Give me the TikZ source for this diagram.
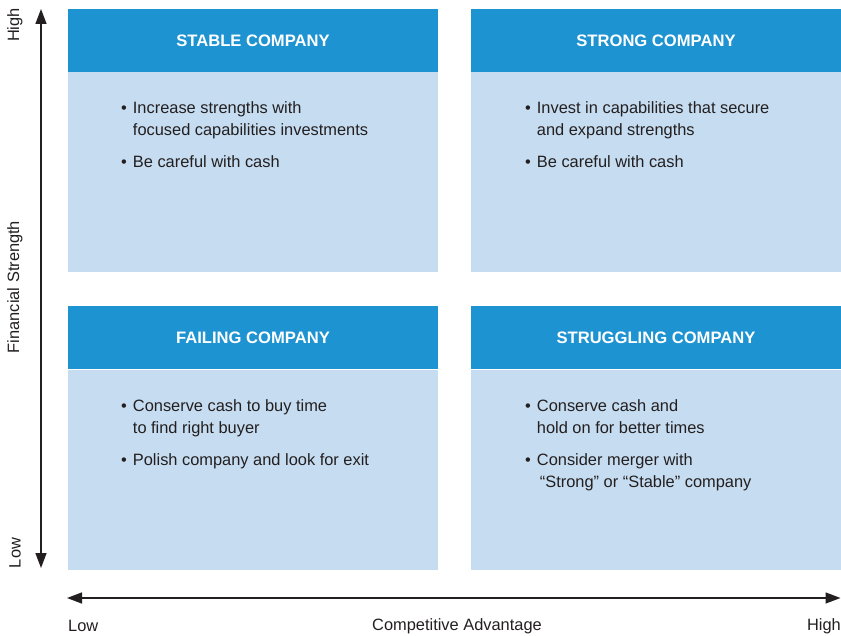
\documentclass[tikz,border=0pt]{standalone}
\usepackage{fontspec}
\setmainfont{Liberation Sans}
\usetikzlibrary{arrows.meta}
\definecolor{headblue}{HTML}{1E93D2}
\definecolor{bodyblue}{HTML}{C6DCF0}
\definecolor{ink}{HTML}{231F20}
\tikzset{
  headbox/.style={fill=headblue, draw=none, minimum width=370pt, minimum height=63pt,
    inner sep=0pt, text=white, font=\fontsize{16.6}{19}\selectfont\bfseries},
  bodybox/.style={fill=bodyblue, draw=none, minimum width=370pt, minimum height=200pt,
    inner sep=0pt, anchor=north},
  bullet/.style={anchor=north west, inner sep=0pt, text=ink,
    font=\fontsize{16.4}{22}\selectfont, align=left},
  axislabel/.style={text=ink, font=\fontsize{16.4}{19}\selectfont, inner sep=0pt},
  axisarrow/.style={draw=ink, line width=1.4pt,
    {Triangle[length=15pt,width=11pt]}-{Triangle[length=15pt,width=11pt]}}
}
\newcommand{\bitem}[2]{\begin{tabular}{@{}l@{\hspace{6pt}}l@{}}\textbullet & #1\\[0pt] & #2\end{tabular}}
\newcommand{\bone}[1]{\begin{tabular}{@{}l@{\hspace{6pt}}l@{}}\textbullet & #1\end{tabular}}
\begin{document}
\begin{tikzpicture}[x=1pt,y=-1pt]
  \useasboundingbox (0,0) rectangle (841,636);
  % quadrant headers
  \node[headbox] (hSL) at (253,40.5) {STABLE COMPANY};
  \node[headbox] (hSR) at (656,40.5) {STRONG COMPANY};
  \node[headbox] (hFL) at (253,338) {FAILING COMPANY};
  \node[headbox] (hFR) at (656,338) {STRUGGLING COMPANY};
  % quadrant bodies
  \node[bodybox] (bSL) at (hSL.south) {};
  \node[bodybox] (bSR) at (hSR.south) {};
  \node[bodybox] (bFL) at (hFL.south) {};
  \node[bodybox] (bFR) at (hFR.south) {};
  % bullet points
  \node[bullet] (sl1) at (121,97.5) {\bitem{Increase strengths with}{focused capabilities investments}};
  \node[bullet] (sl2) at (121,151.5) {\bone{Be careful with cash}};
  \node[bullet] (sr1) at (525,97.5) {\bitem{Invest in capabilities that secure}{and expand strengths}};
  \node[bullet] (sr2) at (525,151.5) {\bone{Be careful with cash}};
  \node[bullet] (fl1) at (121,395.5) {\bitem{Conserve cash to buy time}{to find right buyer}};
  \node[bullet] (fl2) at (121,449.5) {\bone{Polish company and look for exit}};
  \node[bullet] (fr1) at (525,395.5) {\bitem{Conserve cash and}{hold on for better times}};
  \node[bullet] (fr2) at (525,449.5) {\bitem{Consider merger with}{\hspace{3pt}“Strong” or “Stable” company}};
  % axes
  \coordinate (vTop) at (41,9);
  \coordinate (vBot) at (41,568);
  \coordinate (hLeft) at (67,598);
  \coordinate (hRight) at (840.5,598);
  \draw[axisarrow] (vBot) -- (vTop);
  \draw[axisarrow] (hLeft) -- (hRight);
  % axis labels
  \node[axislabel, rotate=90] (yHigh) at (15,25) {High};
  \node[axislabel, rotate=90] (yLow) at (15,553) {Low};
  \node[axislabel, rotate=90] (yName) at (15,287) {Financial Strength};
  \node[axislabel, anchor=west] (xLow) at (68,626) {Low};
  \node[axislabel] (xName) at (457,626) {Competitive Advantage};
  \node[axislabel, anchor=east] (xHigh) at (841,626) {High};
\end{tikzpicture}
\end{document}
